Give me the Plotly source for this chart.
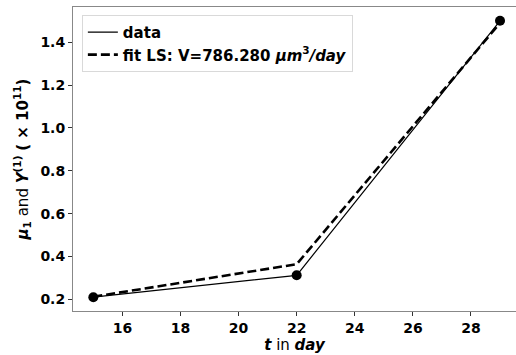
import plotly.graph_objects as go

t_days = [15, 22, 29]
data_vals = [0.21, 0.312, 1.50]
fit_vals = [0.212, 0.364, 1.49]
x_ticks = [16, 18, 20, 22, 24, 26, 28]
y_ticks = [0.2, 0.4, 0.6, 0.8, 1.0, 1.2, 1.4]

font_family = "DejaVu Sans"

fig = go.Figure()
fig.add_trace(go.Scatter(
    x=t_days, y=data_vals, mode="lines", name="<b>data</b>",
    line=dict(color="black", width=1.2)))
fig.add_trace(go.Scatter(
    x=t_days, y=fit_vals, mode="lines",
    name="<b>fit LS: V=786.280 <i>μm</i><sup>3</sup><i>/day</i></b>",
    line=dict(color="black", width=2.6, dash="9px,4px")))
fig.add_trace(go.Scatter(
    x=t_days, y=data_vals, mode="markers", showlegend=False,
    marker=dict(color="black", size=10)))

fig.update_layout(
    width=516, height=355,
    margin=dict(l=73, r=0, t=7, b=44),
    paper_bgcolor="white", plot_bgcolor="white",
    font=dict(family=font_family, color="black", size=14),
    legend=dict(x=0.02, y=0.974, xanchor="left", yanchor="top",
                bgcolor="rgba(255,255,255,0.8)", bordercolor="#d9d9d9",
                borderwidth=1, font=dict(size=15, family=font_family),
                tracegroupgap=0, itemwidth=30),
    showlegend=True,
)
fig.update_xaxes(
    range=[14.3, 29.55], tickvals=x_ticks,
    ticktext=[f"<b>{v}</b>" for v in x_ticks],
    ticks="outside", ticklen=4, tickcolor="#333", tickwidth=1,
    showline=True, linecolor="#888", linewidth=1, mirror=True,
    showgrid=False, zeroline=False,
    title=dict(text="<b><i>t</i></b> in <b><i>day</i></b>", standoff=2,
               font=dict(size=15)),
)
fig.update_yaxes(
    range=[0.1455, 1.5645], tickvals=y_ticks,
    ticktext=[f"<b>{v:.1f}</b>" for v in y_ticks],
    ticks="outside", ticklen=4, tickcolor="#333", tickwidth=1,
    showline=True, linecolor="#888", linewidth=1, mirror=False,
    showgrid=False, zeroline=False,
    title=dict(text="<b><i>μ</i><sub>1</sub></b> and <b><i>Y</i><sup>(1)</sup></b> <b>( × 10<sup>11</sup>)</b>",
               standoff=8, font=dict(size=15)),
)

fig.write_html("out.html")
